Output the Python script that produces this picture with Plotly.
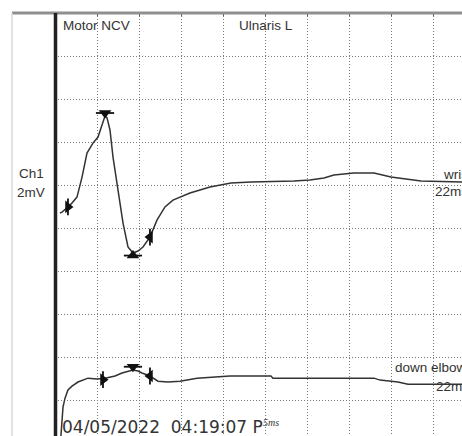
import plotly.graph_objects as go

# ---- data (time in ms, amplitude in display mV; 5 ms/div, 2 mV/div) ----
wrist_t = [0.59, 0.83, 1.54, 2.02, 2.61, 3.21, 3.80, 4.16, 4.51, 5.11, 5.46, 5.70, 5.94,
           6.18, 6.53, 6.89, 7.48, 8.08, 8.67, 9.26, 9.86, 10.45, 11.28, 12.11, 13.06,
           14.01, 16.03, 18.41, 20.90, 23.28, 28.38, 30.28, 31.95, 33.13, 35.51, 37.89,
           39.90, 41.57, 43.47, 48.34]
wrist_v = [10.70, 10.74, 10.98, 11.16, 11.44, 12.37, 13.49, 13.72, 13.95, 14.23, 14.65,
           14.98, 15.21, 15.12, 14.56, 13.30, 11.77, 10.23, 9.12, 8.84, 8.93, 9.12, 9.58,
           10.37, 10.98, 11.30, 11.63, 11.91, 12.09, 12.14, 12.19, 12.23, 12.33, 12.47,
           12.56, 12.56, 12.37, 12.28, 12.19, 12.14]

elbow_t = [0.66, 0.83, 0.95, 1.19, 1.54, 2.02, 2.73, 3.92, 4.99, 5.94, 7.13, 7.96, 8.67,
           9.26, 9.86, 10.33, 11.28, 12.23, 13.42, 14.85, 16.87, 20.78, 25.65, 25.89,
           37.89, 38.60, 40.74, 41.92, 48.34]
elbow_v = [0.10, 1.07, 1.67, 2.09, 2.47, 2.65, 2.84, 3.02, 2.98, 3.02, 3.12, 3.26, 3.35,
           3.40, 3.35, 3.26, 3.12, 2.88, 2.84, 2.88, 3.02, 3.12, 3.12, 3.02, 3.02, 2.93,
           2.84, 2.74, 2.74]

# markers: onset, peak, trough/negative peak, end
wrist_onset = (1.54, 10.98)
wrist_peak = (5.94, 15.35)
wrist_trough = (9.26, 8.72)
wrist_end = (11.28, 9.58)

elbow_onset = (5.70, 2.95)
elbow_peak = (9.26, 3.55)
elbow_end = (11.28, 3.12)

title_left = "Motor NCV"
title_mid = "Ulnaris L"
ch_label = "Ch1"
gain_label = "2mV"
wrist_label = "wrist"
elbow_label = "down elbow"
lat_label = "22ms"
date_label = "04/05/2022  04:19:07 P"
sweep_label = "5ms"

X_RANGE = [0, 48.34]
Y_RANGE = [0.33, 20]

W, H = 462, 436
L, T = 55, 13
PW, PH = W - L, H - T

def px(x):
    return (x - L) / PW

def py(y):
    return (H - y) / PH

fig = go.Figure()
line_col = "#333333"
fig.add_trace(go.Scatter(x=wrist_t, y=wrist_v, mode="lines",
                         line=dict(color=line_col, width=1.5), hoverinfo="skip"))
fig.add_trace(go.Scatter(x=elbow_t, y=elbow_v, mode="lines",
                         line=dict(color=line_col, width=1.5), hoverinfo="skip"))

def add_marker(pt, sym, size, lw=0):
    fig.add_trace(go.Scatter(x=[pt[0]], y=[pt[1]], mode="markers",
                             marker=dict(symbol=sym, size=size, color="#111111",
                                         line=dict(color="#111111", width=lw)),
                             hoverinfo="skip"))

for pt in [wrist_onset, elbow_onset]:
    add_marker(pt, "triangle-right", 11)
    add_marker(pt, "line-ns", 12, 1.8)
for pt in [wrist_end, elbow_end]:
    add_marker(pt, "triangle-left", 11)
    add_marker(pt, "line-ns", 12, 1.8)
for pt in [wrist_peak, elbow_peak]:
    add_marker(pt, "triangle-down", 11)
    add_marker(pt, "line-ew", 13, 1.8)
add_marker(wrist_trough, "triangle-up", 11)
add_marker(wrist_trough, "line-ew", 13, 1.8)

grid = dict(showgrid=True, gridcolor="#7a7a7a", griddash="1px,2px", gridwidth=1,
            zeroline=False, showticklabels=False, showline=False)
fig.update_xaxes(range=X_RANGE, dtick=5, tick0=0, side="top", ticks="inside",
                 ticklen=3, tickcolor="#555", **grid)
fig.update_yaxes(range=Y_RANGE, dtick=2, tick0=0, ticks="", **grid)

shapes = [
    # top gray bar
    dict(type="line", xref="paper", yref="paper", x0=px(12), x1=1.0, y0=1.0, y1=1.0,
         line=dict(color="#8f8f8f", width=3)),
    # faint left border
    dict(type="line", xref="paper", yref="paper", x0=px(12), x1=px(12), y0=0, y1=1.0,
         line=dict(color="#d8d8d8", width=1.5)),
    # heavy left axis
    dict(type="line", xref="paper", yref="paper", x0=px(55.5), x1=px(55.5), y0=0, y1=1.0,
         line=dict(color="#222222", width=3.5)),
]

small = dict(family="Liberation Sans, Arial", size=13.5, color="#333333")
anns = [
    dict(text=title_left, x=px(61), y=py(25), xanchor="left", font=small),
    dict(text=title_mid, x=px(237), y=py(25), xanchor="left", font=small),
    dict(text=ch_label, x=px(31), y=py(173), xanchor="center", font=small),
    dict(text=gain_label, x=px(31), y=py(193), xanchor="center", font=small),
    dict(text=wrist_label, x=px(441), y=py(174), xanchor="left", font=small),
    dict(text=lat_label, x=px(433), y=py(192), xanchor="left", font=small),
    dict(text=elbow_label, x=px(393), y=py(367), xanchor="left", font=small),
    dict(text=lat_label, x=px(434), y=py(386), xanchor="left", font=small),
    dict(text=date_label, x=px(60), y=py(427), xanchor="left",
         font=dict(family="DejaVu Sans", size=17, color="#333333")),
    dict(text="<i>" + sweep_label + "</i>", x=px(261), y=py(422), xanchor="left",
         font=dict(family="Liberation Serif", size=10, color="#333333")),
]
for a in anns:
    a.update(xref="paper", yref="paper", yanchor="middle", showarrow=False)

fig.update_layout(width=W, height=H,
                  margin=dict(l=L, r=0, t=T, b=0, pad=0),
                  paper_bgcolor="white", plot_bgcolor="white", showlegend=False,
                  hovermode=False, shapes=shapes, annotations=anns)

fig.write_html("out.html", config={"displayModeBar": False, "staticPlot": True},
               post_script="document.body.style.margin='0';"
                           "document.body.style.overflow='hidden';")
